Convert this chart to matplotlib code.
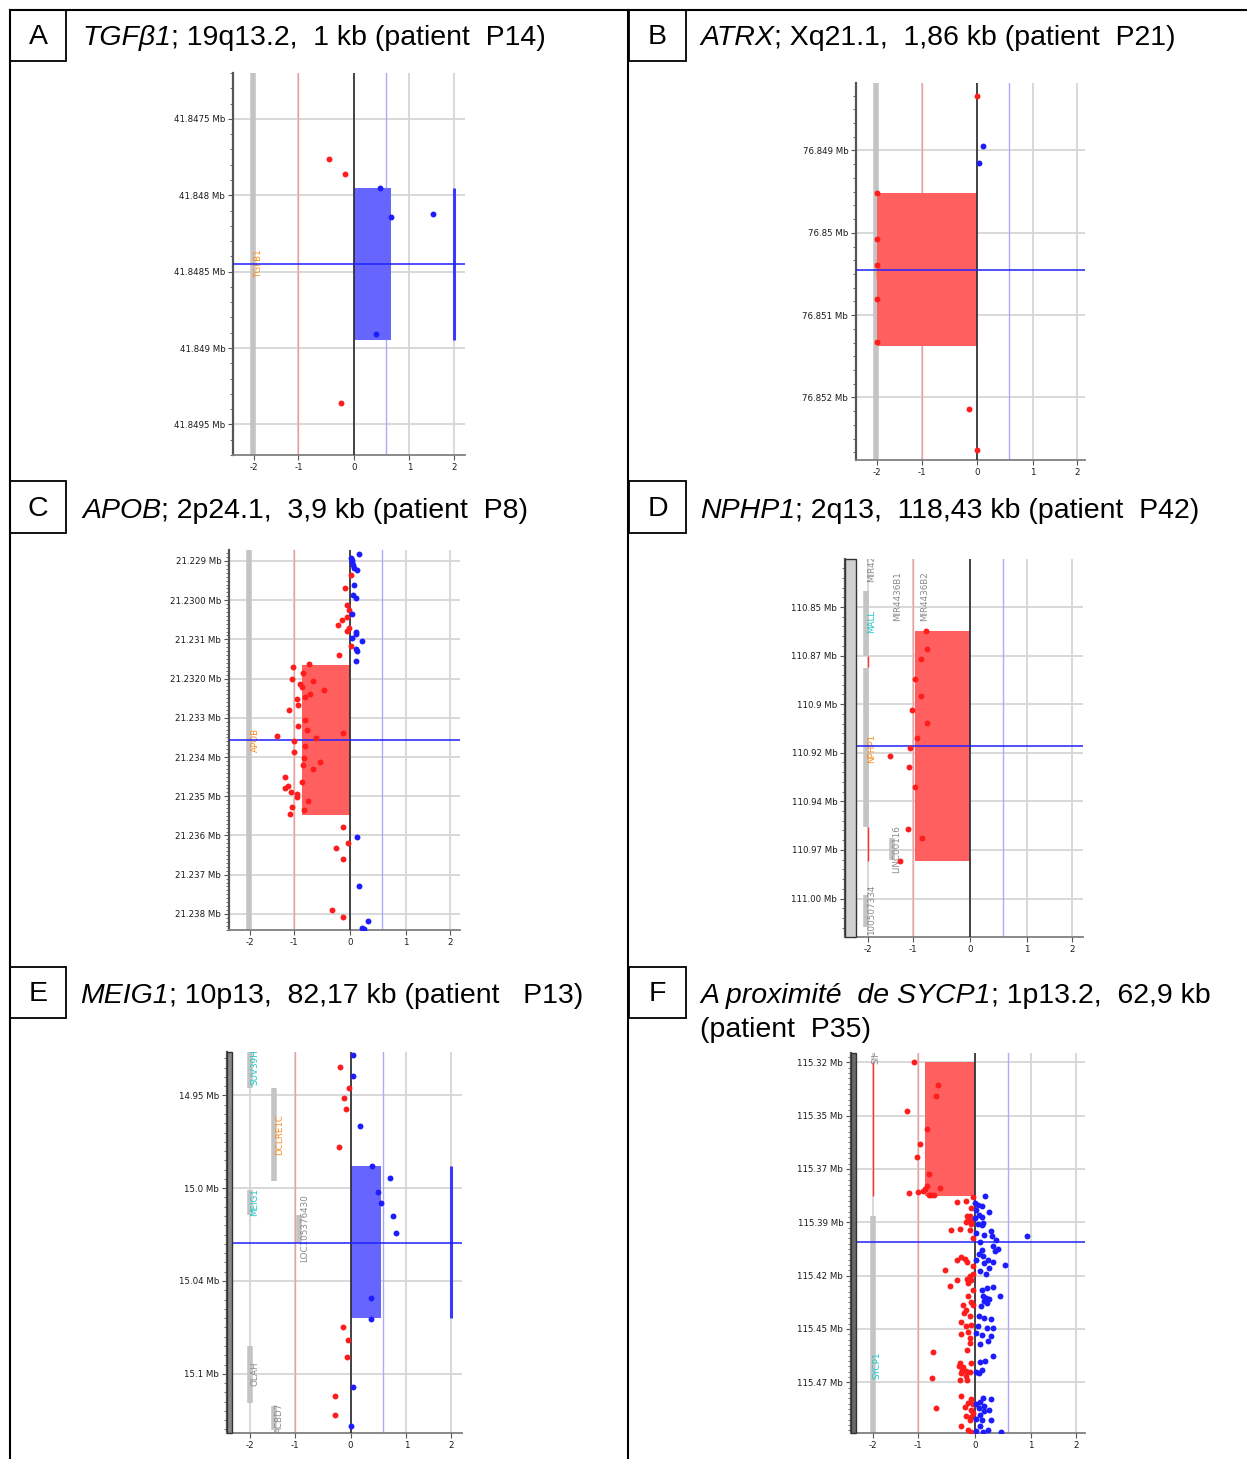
import numpy as np
import matplotlib
matplotlib.use('Agg')
import matplotlib.pyplot as plt
from matplotlib.ticker import FixedLocator, FixedFormatter, AutoMinorLocator
from matplotlib.patches import Rectangle
from matplotlib.lines import Line2D

# ---------------- data ----------------
# Panel A : TGFB1
A_red_x = [-0.45, -0.16, -0.24]
A_red_y = [41.84776, 41.84786, 41.84936]
A_blue_x = [0.46, 0.66, 1.53, 0.40]
A_blue_y = [41.84795, 41.84814, 41.84812, 41.84891]
A_seg = (0.0, 0.67, 41.84795, 41.84895)      # x0, x1, y0, y1
A_hline = 41.84845
A_yticks = [41.8475, 41.848, 41.8485, 41.849, 41.8495]
A_ylabels = ['41.8475 Mb', '41.848 Mb', '41.8485 Mb', '41.849 Mb', '41.8495 Mb']

# Panel B : ATRX
B_red_x = [0.0, -2.0, -2.0, -2.0, -2.0, -2.0, -0.15, -0.01]
B_red_y = [76.84834, 76.84952, 76.85008, 76.85039, 76.85081, 76.85133, 76.85214, 76.85264]
B_blue_x = [0.10, 0.03]
B_blue_y = [76.84894, 76.84915]
B_seg = (-2.0, 0.0, 76.84952, 76.85137)
B_hline = 76.85045
B_yticks = [76.849, 76.850, 76.851, 76.852]
B_ylabels = ['76.849 Mb', '76.85 Mb', '76.851 Mb', '76.852 Mb']

# Panel C : APOB
C_blue_x = [0.17, 0.02, 0.04, 0.03, 0.05, 0.08, 0.12, 0.08, 0.05, 0.10, 0.03, 0.10,
            0.11, 0.03, 0.21, 0.11, 0.13, 0.11, 0.12, 0.17, 0.33, 0.21, 0.26]
C_blue_y = [21.22883, 21.22893, 21.22897, 21.22903, 21.22910, 21.22917, 21.22924,
            21.22961, 21.22987, 21.22995, 21.23036, 21.23082, 21.23087, 21.23096,
            21.23104, 21.23125, 21.23130, 21.23154, 21.23603, 21.23730, 21.23818,
            21.23837, 21.23839]
C_red_x = [0.02, -0.09, -0.05, -0.01, -0.06, -0.15, -0.21, -0.02, -0.05, 0.02, -0.20,
           -0.73, -1.04, -0.84, -1.05, -0.66, -0.89, -0.86, -0.47, -0.81, -0.72, -0.96,
           -0.93, -1.13, -0.80, -0.93, -0.78, -0.12, -1.39, -0.61, -1.01, -0.81, -1.00,
           -0.82, -0.53, -0.84, -0.67, -1.20, -1.14, -1.22, -0.86, -1.07, -0.95, -0.95,
           -0.75, -1.05, -1.09, -0.83, -0.13, -0.04, -0.25, -0.13, -0.33, -0.12]
C_red_y = [21.22937, 21.22968, 21.23012, 21.23025, 21.23044, 21.23051, 21.23064,
           21.23072, 21.23078, 21.23117, 21.23141, 21.23162, 21.23170, 21.23185,
           21.23200, 21.23206, 21.23213, 21.23221, 21.23228, 21.23247, 21.23240,
           21.23252, 21.23266, 21.23281, 21.23305, 21.23320, 21.23331, 21.23338,
           21.23346, 21.23351, 21.23359, 21.23373, 21.23386, 21.23403, 21.23413,
           21.23421, 21.23430, 21.23452, 21.23473, 21.23480, 21.23463, 21.23488,
           21.23493, 21.23502, 21.23511, 21.23528, 21.23546, 21.23535, 21.23579,
           21.23618, 21.23631, 21.23659, 21.23789, 21.23808]
C_seg = (-0.86, 0.0, 21.23164, 21.23549)
C_hline = 21.23357
C_yticks = [21.229, 21.230, 21.231, 21.232, 21.233, 21.234, 21.235, 21.236, 21.237, 21.238]
C_ylabels = ['21.229 Mb', '21.2300 Mb', '21.231 Mb', '21.2320 Mb', '21.233 Mb',
             '21.234 Mb', '21.235 Mb', '21.236 Mb', '21.237 Mb', '21.238 Mb']

# Panel D : NPHP1
D_red_x = [-0.78, -0.75, -0.86, -0.97, -0.86, -1.02, -0.76, -0.93, -1.07, -1.52,
           -1.09, -0.96, -1.12, -0.85, -1.30]
D_red_y = [110.86237, 110.87165, 110.87680, 110.88694, 110.89605, 110.90292,
           110.90979, 110.91753, 110.92234, 110.92646, 110.93230, 110.94244,
           110.96443, 110.96873, 110.98093]
D_seg = (-0.97, 0.0, 110.86237, 110.98061)
D_hline = 110.92148
D_yticks = [110.85, 110.875, 110.90, 110.925, 110.95, 110.975, 111.00]
D_ylabels = ['110.85 Mb', '110.87 Mb', '110.9 Mb', '110.92 Mb', '110.94 Mb',
             '110.97 Mb', '111.00 Mb']

# Panel E : MEIG1
E_blue_x = [0.05, 0.04, 0.17, 0.39, 0.70, 0.49, 0.54, 0.75, 0.82, 0.36, 0.36, 0.04, 0.01]
E_blue_y = [14.92808, 14.93976, 14.96635, 14.98791, 14.99474, 15.00192, 15.00803,
            15.01522, 15.02438, 15.05941, 15.07037, 15.10720, 15.12804]
E_red_x = [-0.19, -0.02, -0.11, -0.09, -0.21, -0.14, -0.04, -0.07, -0.28, -0.28]
E_red_y = [14.93455, 14.94605, 14.95162, 14.95719, 14.97803, 15.07468, 15.08205,
           15.09103, 15.11223, 15.12247]
E_seg = (0.0, 0.54, 14.98827, 15.07001)
E_hline = 15.02941
E_yticks = [14.95, 15.00, 15.05, 15.10]
E_ylabels = ['14.95 Mb', '15.0 Mb', '15.04 Mb', '15.1 Mb']

# Panel F : near SYCP1
F_red_x = [-1.10, -0.65, -0.69, -1.25, -0.84, -0.97, -1.03, -0.81, -0.84, -0.88, -0.91,
           -1.00, -1.20, -0.78, -0.72, -0.62, -0.81,
           -0.04, -0.32, -0.15, -0.06, -0.13, -0.09, -0.12, -0.07, -0.16, -0.06, -0.26,
           -0.42, -0.09, -0.03,
           -0.25, -0.18, -0.13, -0.32, -0.52, -0.03, -0.04, -0.09, -0.13, -0.06, -0.32,
           -0.43, -0.12, -0.04,
           -0.12, -0.06, -0.03, -0.21, -0.15, -0.19, -0.09, -0.24, -0.15, -0.06, -0.25,
           -0.12, -0.09, -0.09,
           -0.14, -0.74, -0.06, -0.26, -0.28, -0.21, -0.22, -0.15, -0.24, -0.09, -0.16,
           -0.75, -0.26, -0.13,
           -0.24, -0.06, -0.12, -0.03, -0.18, -0.69, -0.07, -0.04, -0.16, -0.06, -0.09,
           -0.24, -0.12, -0.06]
F_red_y = [115.31969, 115.33047, 115.33578, 115.34297, 115.35109, 115.35828, 115.36438,
           115.37250, 115.37813, 115.37938, 115.38016, 115.38094, 115.38125, 115.38219,
           115.38219, 115.37891, 115.38203,
           115.38313, 115.38531, 115.38516, 115.38828, 115.39188, 115.39219, 115.39344,
           115.39422, 115.39500, 115.39578, 115.39797, 115.39875, 115.39844, 115.40234,
           115.41141, 115.41219, 115.41375, 115.41250, 115.41750, 115.41531, 115.41906,
           115.42031, 115.42156, 115.42188, 115.42219, 115.42500, 115.42344, 115.42688,
           115.42969, 115.43250, 115.43375, 115.43375, 115.43594, 115.43750, 115.43906,
           115.44188, 115.44344, 115.44297, 115.44719, 115.44656, 115.44938, 115.45156,
           115.45469, 115.45594, 115.46094, 115.46094, 115.46219, 115.46281, 115.46406,
           115.46484, 115.46563, 115.46531, 115.46719, 115.46797, 115.46875, 115.46906,
           115.47656, 115.47781, 115.47969, 115.48000, 115.48156, 115.48219, 115.48281,
           115.48438, 115.48563, 115.48625, 115.48781, 115.49063, 115.49219, 115.49328]
F_blue_x = [0.18, 0.01, 0.05, 0.12, 0.03, 0.25, 0.08, 0.13, 0.01, 0.15, 0.06, 0.12, 0.28,
            0.03, 0.16, 0.31, 0.38, 0.92, 0.09, 0.32, 0.41, 0.12, 0.35, 0.07, 0.15, 0.24,
            0.32, 0.03, 0.16, 0.53, 0.26, 0.09, 0.19, 0.44, 0.21, 0.32, 0.12, 0.14, 0.19,
            0.25, 0.16, 0.11, 0.21, 0.08, 0.16, 0.28, 0.06, 0.21, 0.32, 0.03, 0.12, 0.28,
            0.24, 0.09, 0.32, 0.18, 0.10, 0.12, 0.08, 0.03, 0.14, 0.29, 0.09, 0.03, 0.16,
            0.08, 0.16, 0.26, 0.09, 0.03, 0.12, 0.28, 0.09, 0.24, 0.03, 0.15, 0.47]
F_blue_y = [115.38281, 115.38594, 115.38688, 115.38750, 115.38906, 115.39031, 115.39172,
            115.39266, 115.39297, 115.39531, 115.39563, 115.39609, 115.39891, 115.40000,
            115.40078, 115.40156, 115.40313, 115.40156, 115.40438, 115.40625, 115.40750,
            115.40781, 115.40859, 115.40984, 115.41063, 115.41250, 115.41375, 115.41281,
            115.41406, 115.41516, 115.41656, 115.41797, 115.41906, 115.42938, 115.42563,
            115.42531, 115.42688, 115.42969, 115.43047, 115.43094, 115.43203, 115.43406,
            115.43281, 115.43875, 115.44000, 115.44031, 115.44375, 115.44453, 115.44453,
            115.44688, 115.44766, 115.44844, 115.45078, 115.45203, 115.45781, 115.45984,
            115.46047, 115.46438, 115.46563, 115.46531, 115.47734, 115.47781, 115.47906,
            115.48000, 115.48094, 115.48203, 115.48359, 115.48281, 115.48516, 115.48719,
            115.48750, 115.48750, 115.49031, 115.49219, 115.49297, 115.49344, 115.49344]
F_seg = (-0.88, 0.0, 115.31969, 115.38250)
F_hline = 115.40422
F_yticks = [115.32, 115.345, 115.37, 115.395, 115.42, 115.445, 115.47]
F_ylabels = ['115.32 Mb', '115.35 Mb', '115.37 Mb', '115.39 Mb', '115.42 Mb',
             '115.45 Mb', '115.47 Mb']

# gene tracks: (x, y0, y1, label, label_x, label_y, label_color)
ORANGE, CYAN, GREYT = '#ff8c1a', '#1ec8c8', '#8a8a8a'
A_genes = [(-2.03, 41.8470, 41.8500, 'TGFB1', -1.89, 41.84845, ORANGE)]
B_genes = [(-2.02, 76.8480, 76.8530, 'ATRX', -1.90, 76.85043, ORANGE)]
C_genes = [(-2.03, 21.2285, 21.2390, 'APOB', -1.87, 21.23357, ORANGE)]
D_genes = [(-2.04, 110.84192, 110.87509, 'MALL', -1.91, 110.85739, CYAN),
           (-2.04, 110.88144, 110.96306, 'NPHP1', -1.91, 110.92302, ORANGE),
           (-1.46, 110.96907, 110.98024, 'LINC00116', -1.36, 110.97457, GREYT),
           (-2.04, 110.99843, 111.01476, '100507334', -1.91, 111.00581, GREYT),
           (None, None, None, 'MIR42', -1.91, 110.83024, GREYT),
           (None, None, None, 'MIR4436B1', -1.34, 110.84450, GREYT),
           (None, None, None, 'MIR4436B2', -0.79, 110.84450, GREYT)]
D_redtrack = [(110.87509, 110.88093), (110.96306, 110.98058)]
E_genes = [(-2.0, 14.92664, 14.94605, 'SUV39H2', -1.89, 14.93347, CYAN),
           (-1.47, 14.94605, 14.99635, 'DCLRE1C', -1.34, 14.97084, ORANGE),
           (-2.0, 15.00084, 15.01468, 'MEIG1', -1.89, 15.00749, CYAN),
           (-0.93, 15.01432, 15.02959, 'LOC105376430', -0.82, 15.02151, GREYT),
           (-2.0, 15.08528, 15.11582, 'OLAH', -1.89, 15.10020, GREYT),
           (-1.47, 15.11762, 15.13020, 'ACBD7', -1.34, 15.12391, GREYT)]
F_genes = [(-2.0, 115.39188, 115.4950, 'SYCP1', -1.91, 115.46222, CYAN),
           (None, None, None, 'SIH', -1.93, 115.3175, GREYT)]
F_redtrack = [(115.31969, 115.38250)]

# ---------------- figure ----------------
W, H = 1247, 1459
fig = plt.figure(figsize=(W / 100, H / 100), dpi=100)


def fwd(x):
    x = np.asarray(x, dtype=float)
    a = np.abs(x)
    return np.where(a <= 1, x, np.sign(x) * (1 + 0.8 * (a - 1)))


def inv(t):
    t = np.asarray(t, dtype=float)
    a = np.abs(t)
    return np.where(a <= 1, t, np.sign(t) * (1 + (a - 1) / 0.8))


def px_rect(l, t, r, b):
    return [l / W, 1 - b / H, (r - l) / W, (b - t) / H]


RED_PT, BLUE_PT = '#ff1c1c', '#1c1cff'
RED_BOX, BLUE_BOX = '#ff5f5f', '#6666ff'


def panel(rect, xlim, ylim, yticks, ylabels, nminor, red, blue, seg, segcolor,
          hline, genes, redtrack=(), bar2=False, band=None):
    ax = fig.add_axes(px_rect(*rect))
    ax.set_xscale('function', functions=(fwd, inv))
    ax.set_xlim(*xlim)
    ax.set_ylim(ylim[1], ylim[0])
    for s in ('top', 'right'):
        ax.spines[s].set_visible(False)
    ax.spines['left'].set_color('#555555')
    ax.spines['left'].set_linewidth(1.6)
    ax.spines['bottom'].set_color('#808080')
    ax.spines['bottom'].set_linewidth(1.3)
    ax.set_xticks([-2, -1, 0, 1, 2])
    ax.set_xticklabels(['-2', '-1', '0', '1', '2'])
    ax.yaxis.set_major_locator(FixedLocator(yticks))
    ax.yaxis.set_major_formatter(FixedFormatter(ylabels))
    ax.yaxis.set_minor_locator(AutoMinorLocator(nminor))
    ax.tick_params(axis='both', which='major', labelsize=6.2, length=3.5,
                   color='#555555', labelcolor='#1a1a1a', pad=2)
    ax.tick_params(axis='y', which='minor', length=2, color='#555555')
    # grid
    for g in [-2, -1, 0, 1, 2]:
        ax.axvline(g, color='#d6d6d6', lw=1.3, zorder=0)
    for g in yticks:
        ax.axhline(g, color='#d6d6d6', lw=1.3, zorder=0)
    ax.axvline(-1, color='#f0a0a0', lw=1.0, zorder=1)
    ax.axvline(0.58, color='#aaaaff', lw=1.0, zorder=1)
    # gene tracks
    for (gx, g0, g1, name, lx, ly, col) in genes:
        if gx is not None:
            ax.vlines(gx, g0, g1, color='#c4c4c4', lw=4, zorder=2)
        ax.text(lx, ly, name, rotation=90, fontsize=6.3, color=col,
                ha='center', va='center', clip_on=True, zorder=2)
    for (r0, r1) in redtrack:
        ax.vlines(-2.0, r0, r1, color='#ff3030', lw=1.0, zorder=2)
    if band is not None:
        ax.add_patch(Rectangle((0, 0), band[0], 1, transform=ax.transAxes,
                               facecolor=band[1], edgecolor='#333333', lw=1.0,
                               zorder=6, clip_on=False))
    # segment
    x0, x1, y0, y1 = seg
    ax.add_patch(Rectangle((x0, y0), x1 - x0, y1 - y0, facecolor=segcolor,
                           edgecolor='none', zorder=3))
    if bar2:
        ax.vlines(2.0, y0, y1, color='#3a3aff', lw=2.2, zorder=3)
    ax.axvline(0, color='#2a2a2a', lw=1.2, zorder=4)
    ax.axhline(hline, color='#2020ff', lw=1.1, zorder=4)
    # points
    if red is not None:
        n = min(len(red[0]), len(red[1]))
        ax.scatter(red[0][:n], red[1][:n], s=18, color=RED_PT, linewidths=0, zorder=5)
    if blue is not None:
        n = min(len(blue[0]), len(blue[1]))
        ax.scatter(blue[0][:n], blue[1][:n], s=18, color=BLUE_PT, linewidths=0, zorder=5)
    return ax


panel((233, 73, 465, 455), (-2.475, 2.25), (41.84720, 41.84970), A_yticks, A_ylabels, 5,
      (A_red_x, A_red_y), (A_blue_x, A_blue_y), A_seg, BLUE_BOX, A_hline, A_genes,
      bar2=True)
panel((856, 83, 1085, 460), (-2.48, 2.175), (76.84818, 76.85276), B_yticks, B_ylabels, 6,
      (B_red_x, B_red_y), (B_blue_x, B_blue_y), B_seg, RED_BOX, B_hline, B_genes)
panel((229, 550, 460, 930), (-2.47, 2.225), (21.22872, 21.23841), C_yticks, C_ylabels, 10,
      (C_red_x, C_red_y), (C_blue_x, C_blue_y), C_seg, RED_BOX, C_hline, C_genes)
panel((845, 559, 1083, 937), (-2.5, 2.24), (110.8253, 111.0198), D_yticks, D_ylabels, 5,
      (D_red_x, D_red_y), None, D_seg, RED_BOX, D_hline, D_genes, redtrack=D_redtrack,
      band=(0.046, '#d0d0d0'))
panel((227, 1052, 462, 1433), (-2.51, 2.24), (14.92662, 15.1319), E_yticks, E_ylabels, 10,
      (E_red_x, E_red_y), (E_blue_x, E_blue_y), E_seg, BLUE_BOX, E_hline, E_genes,
      bar2=True, band=(0.02, '#8a8a8a'))
panel((851, 1053, 1085, 1433), (-2.49, 2.19), (115.31563, 115.49375), F_yticks, F_ylabels, 10,
      (F_red_x, F_red_y), (F_blue_x, F_blue_y), F_seg, RED_BOX, F_hline, F_genes,
      redtrack=F_redtrack, band=(0.022, '#6a6a6a'))

# ---------------- frame, letter boxes, titles ----------------
def fline(x0, y0, x1, y1, lw=1.5):
    fig.add_artist(Line2D([x0 / W, x1 / W], [1 - y0 / H, 1 - y1 / H], color='black',
                          lw=lw, transform=fig.transFigure))


fline(10, 10, 1247, 10)
fline(10, 10, 10, 1459)
fline(628, 10, 628, 1459)

TFS = 20.5
FAM = 'Liberation Sans'
renderer = fig.canvas.get_renderer()


def letter_box(l, t, r, b, letter):
    fig.add_artist(Rectangle((l / W, 1 - b / H), (r - l) / W, (b - t) / H,
                             transform=fig.transFigure, facecolor='white',
                             edgecolor='black', lw=1.3))
    fig.text((l + r) / 2 / W, 1 - (t + b) / 2 / H - 1.5 / H, letter, fontsize=TFS,
             family=FAM, ha='center', va='center')


def title(x_px, base_px, parts):
    x = x_px
    for txt, ital in parts:
        t = fig.text(x / W, 1 - base_px / H, txt, fontsize=TFS, family=FAM,
                     style='italic' if ital else 'normal', ha='left', va='baseline')
        bb = t.get_window_extent(renderer)
        x = bb.x1


letter_box(10, 10, 66, 61, 'A')
letter_box(629, 10, 686, 61, 'B')
letter_box(10, 481, 66, 533, 'C')
letter_box(629, 481, 686, 533, 'D')
letter_box(10, 967, 66, 1018, 'E')
letter_box(629, 967, 686, 1018, 'F')

title(82, 45, [('TGFβ1', True), ('; 19q13.2,  1 kb (patient  P14)', False)])
title(700, 45, [('ATRX', True), ('; Xq21.1,  1,86 kb (patient  P21)', False)])
title(82, 518, [('APOB', True), ('; 2p24.1,  3,9 kb (patient  P8)', False)])
title(700, 518, [('NPHP1', True), ('; 2q13,  118,43 kb (patient  P42)', False)])
title(80, 1003, [('MEIG1', True), ('; 10p13,  82,17 kb (patient   P13)', False)])
title(700, 1003, [('A proximité  de SYCP1', True), ('; 1p13.2,  62,9 kb', False)])
title(700, 1037, [('(patient  P35)', False)])

fig.savefig('out.png', dpi=100)
